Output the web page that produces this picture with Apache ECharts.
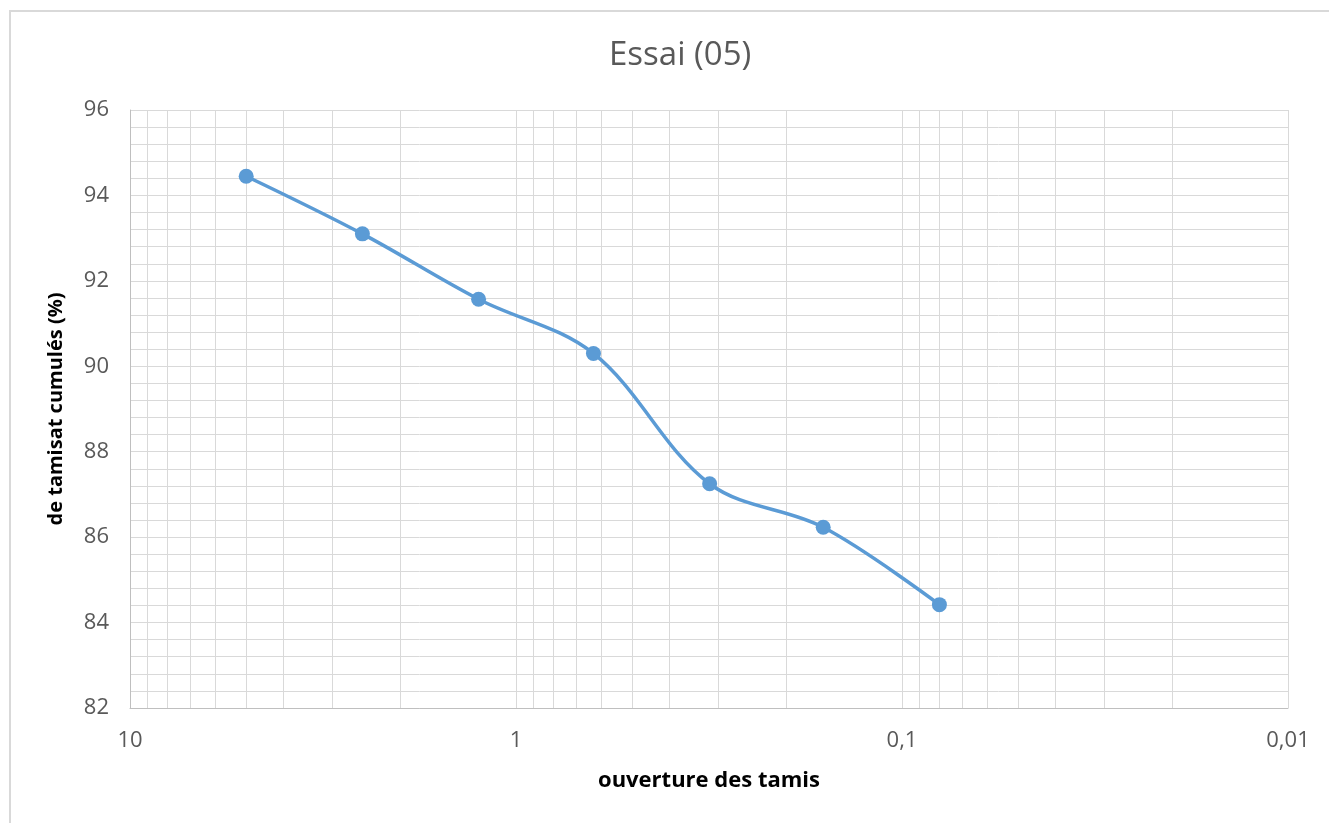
<!DOCTYPE html>
<html>
<head>
<meta charset="utf-8">
<script src="https://cdn.jsdelivr.net/npm/echarts@6/dist/echarts.min.js"></script>
<style>
  html, body { margin: 0; padding: 0; background: #fff; }
  .frame {
    position: absolute; left: 9px; top: 10px; width: 1400px; height: 900px;
    border-left: 2px solid #d9d9d9; border-top: 2px solid #d9d9d9;
  }
  #chart { position: absolute; left: 0; top: 0; width: 1329px; height: 823px; }
</style>
</head>
<body>
<div class="frame"></div>
<div id="chart"></div>
<script>
// ouverture des tamis (mm) et tamisat cumulé (%)
const sieveSizes = [5, 2.5, 1.25, 0.63, 0.315, 0.16, 0.08]
const passing = [94.45, 93.1, 91.57, 90.3, 87.25, 86.23, 84.42]
// lignes secondaires de la grille logarithmique
const minorX = [9, 8, 7, 6, 5, 4, 3, 2, 0.9, 0.8, 0.7, 0.6, 0.5, 0.4, 0.3, 0.2, 0.09, 0.08, 0.07, 0.06, 0.05, 0.04, 0.03, 0.02]

const grid = '#d9d9d9'
const chart = echarts.init(document.getElementById('chart'))
chart.setOption({
  animation: false,
  title: {
    text: 'Essai (05)', left: 604, top: 34,
    textStyle: { fontFamily: 'Open Sans', fontSize: 33, fontWeight: 'normal', color: '#595959' }
  },
  grid: { left: 130, right: 41, top: 110, bottom: 115 },
  xAxis: {
    type: 'log', logBase: 10, min: 0.01, max: 10, inverse: true,
    name: 'ouverture des tamis', nameLocation: 'middle', nameGap: 62,
    nameTextStyle: { fontFamily: 'Open Sans', fontSize: 22, fontWeight: 'bold', color: '#000' },
    axisLine: { lineStyle: { color: '#bfbfbf', width: 1 } },
    axisTick: { show: false },
    axisLabel: {
      margin: 22, fontFamily: 'Open Sans', fontSize: 22, color: '#595959',
      formatter: v => String(v).replace('.', ',')
    },
    splitLine: { show: true, lineStyle: { color: grid, width: 1 } }
  },
  yAxis: {
    type: 'value', min: 82, max: 96, interval: 2,
    name: 'de tamisat cumulés (%)', nameLocation: 'middle', nameGap: 64,
    nameTextStyle: { fontFamily: 'Open Sans', fontSize: 20, fontWeight: 'bold', color: '#000' },
    axisLine: { show: true, lineStyle: { color: '#bfbfbf', width: 1 } },
    axisTick: { show: false },
    axisLabel: { margin: 21, fontFamily: 'Open Sans', fontSize: 22, color: '#595959' },
    splitLine: { lineStyle: { color: grid, width: 1 } },
    minorTick: { show: false, splitNumber: 5 },
    minorSplitLine: { show: true, lineStyle: { color: grid, width: 1 } }
  },
  series: [
    {
      type: 'line', data: [], z: 1, silent: true,
      markLine: {
        silent: true, symbol: 'none', animation: false,
        label: { show: false },
        lineStyle: { color: grid, width: 1, type: 'solid' },
        data: minorX.map(v => ({ xAxis: v }))
      }
    },
    {
      type: 'line', z: 5,
      data: sieveSizes.map((s, i) => [s, passing[i]]),
      smooth: 0.35,
      symbol: 'circle', symbolSize: 15,
      lineStyle: { color: '#5b9bd5', width: 3.5 },
      itemStyle: { color: '#5b9bd5' }
    }
  ]
})
</script>
</body>
</html>
